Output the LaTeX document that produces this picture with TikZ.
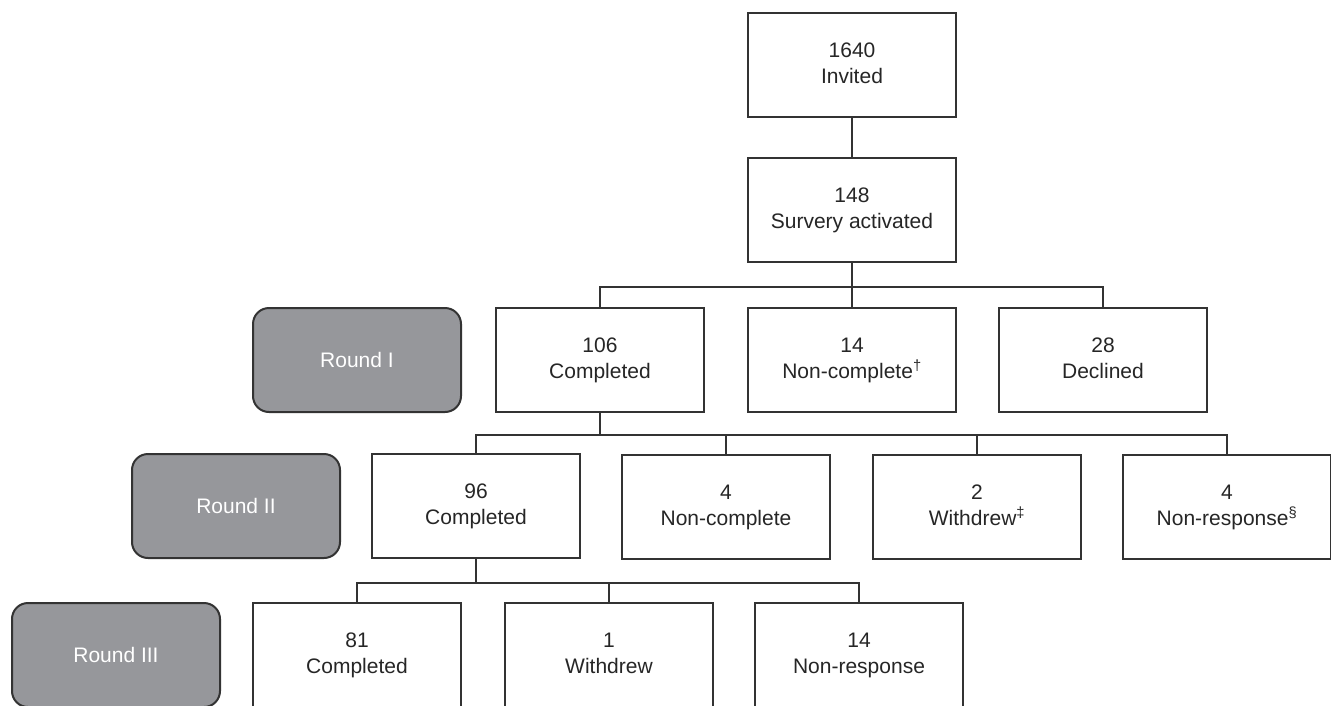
\documentclass[tikz,border=0pt]{standalone}
\usepackage{fontspec}
\setmainfont{Liberation Sans}
\definecolor{roundgray}{RGB}{150,151,155}
\definecolor{linegray}{RGB}{51,51,51}
\newcommand{\twoline}[2]{\strut#1\\\strut#2}
\tikzset{
  box/.style={draw=linegray,line width=2pt,fill=white,minimum width=208pt,
    minimum height=104pt,inner sep=0pt,align=center,text=black!85,
    font=\fontsize{21}{26}\selectfont},
  roundbox/.style={box,fill=roundgray,rounded corners=16pt,text=white},
  link/.style={draw=linegray,line width=2pt}
}
\begin{document}
\begin{tikzpicture}[x=1pt,y=-1pt]
	\useasboundingbox (0,0) rectangle (1331,705);
	\clip (0,0) rectangle (1331,705);
	% top
	\node[box] (invited) at (852,65) {\twoline{1640}{Invited}};
	\node[box] (survey) at (852,210) {\twoline{148}{Survery activated}};
	% round I
	\node[roundbox] (round1) at (357,360) {Round I};
	\node[box] (c106) at (600,360) {\twoline{106}{Completed}};
	\node[box] (nc14) at (852,360) {\twoline{14}{Non-complete\textsuperscript{\textdagger}}};
	\node[box] (d28) at (1103,360) {\twoline{28}{Declined}};
	% round II
	\node[roundbox] (round2) at (236,506) {Round II};
	\node[box] (c96) at (476,506) {\twoline{96}{Completed}};
	\node[box] (nc4) at (726,507) {\twoline{4}{Non-complete}};
	\node[box] (w2) at (977,507) {\twoline{2}{Withdrew\textsuperscript{\textdaggerdbl}}};
	\node[box] (nr4) at (1227,507) {\twoline{4}{Non-response\textsuperscript{\S}}};
	% round III
	\node[roundbox] (round3) at (116,655) {Round III};
	\node[box] (c81) at (357,655) {\twoline{81}{Completed}};
	\node[box] (w1) at (609,655) {\twoline{1}{Withdrew}};
	\node[box] (nr14) at (859,655) {\twoline{14}{Non-response}};
	% connectors
	\draw[link] (invited) -- (survey);
	\coordinate (split1) at (852,287);
	\draw[link] (survey) -- (split1) -- (nc14);
	\draw[link] (c106.north) |- (split1) -| (d28.north);
	\path (c106.south) ++(0,22) coordinate (split2);
	\draw[link] (c106) -- (split2);
	\draw[link] (c96.north) |- (split2) -| (nr4.north);
	\draw[link] (split2) -| (nc4.north);
	\draw[link] (split2) -| (w2.north);
	\path (c96.south) ++(0,24) coordinate (split3);
	\draw[link] (c96) -- (split3);
	\draw[link] (c81.north) |- (split3) -| (nr14.north);
	\draw[link] (split3) -| (w1.north);
\end{tikzpicture}
\end{document}
